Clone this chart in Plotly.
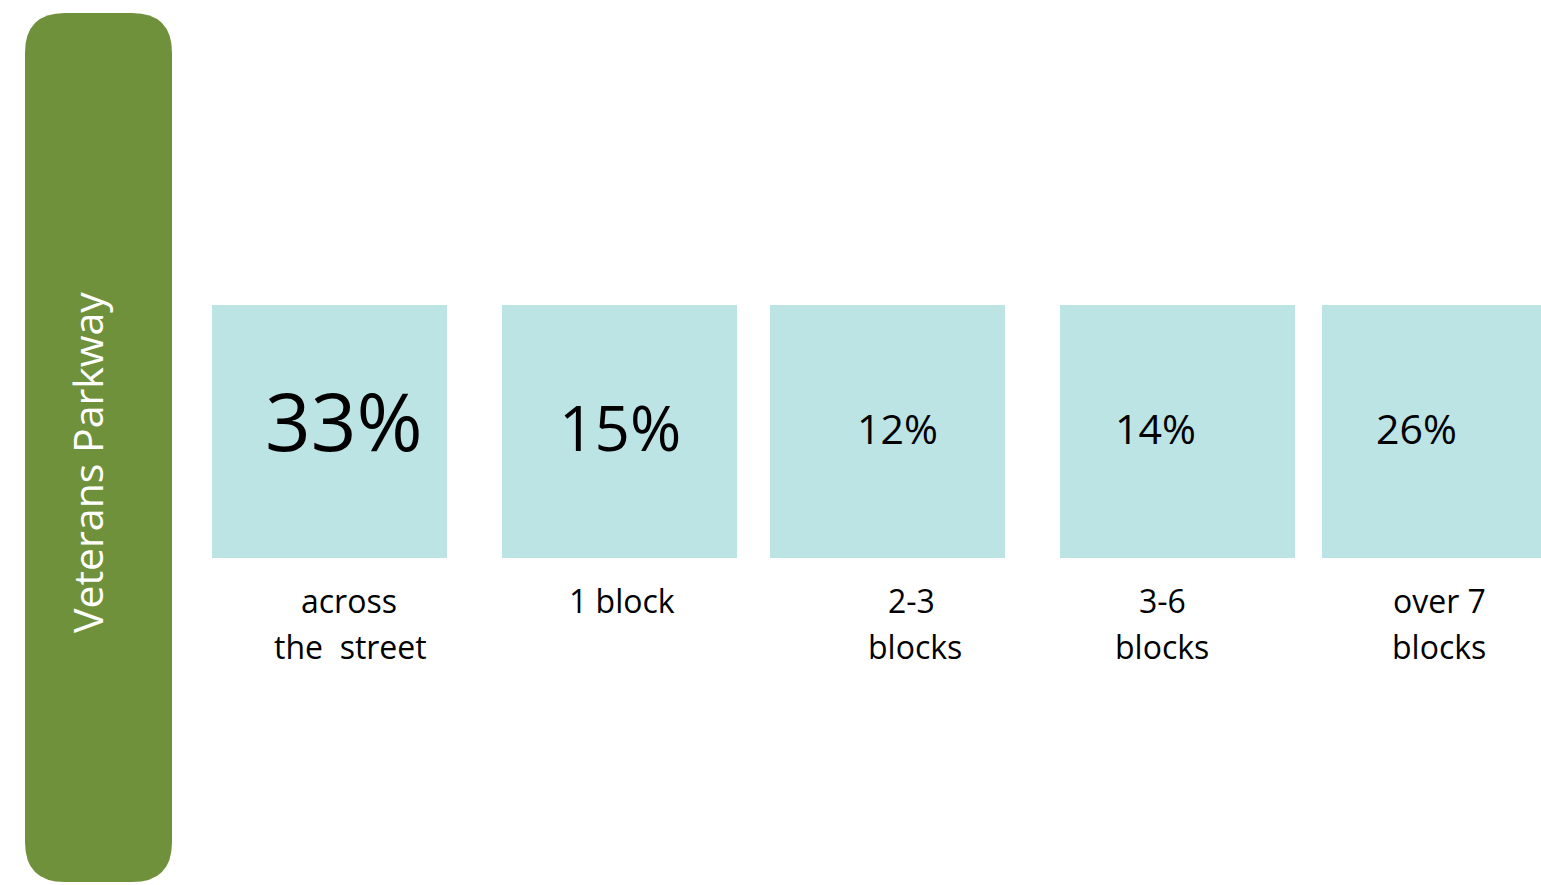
import plotly.graph_objects as go

# ---- data ----
categories = ["across<br>the  street", "1 block", "2-3<br>blocks", "3-6<br>blocks", "over 7<br>blocks"]
percent_values = [33, 15, 12, 14, 26]
road_name = "Veterans Parkway"

# ---- layout / style constants (page pixel coordinates) ----
PAGE_W, PAGE_H = 1541, 885
square_centers = [329.5, 619.5, 887.5, 1177.5, 1439.5]
square_size_w = 235
square_top, square_bottom = 305, 558
pct_x = [344, 620, 897, 1155, 1416]
pct_y = [419, 427, 428, 428, 428]
pct_font_sizes = [80, 62, 41, 41, 41]
label_x = [[349, 350], [622], [911, 915], [1162, 1162], [1439, 1439]]
label_y0, label_dy = 600, 46
label_font = 32
font_family = "Open Sans, sans-serif"
green = "#70913C"
teal = "#BDE4E4"

fig = go.Figure()

fig.add_trace(go.Bar(
    x=square_centers,
    y=[square_bottom - square_top] * len(percent_values),
    base=[square_top] * len(percent_values),
    width=[square_size_w] * len(percent_values),
    marker=dict(color=teal, line=dict(width=0)),
    hoverinfo="skip",
    showlegend=False,
))

# rounded green road band
x0, x1, y0, y1, r = 25, 172, 13, 882, 40
path = (f"M {x0+r},{y0} L {x1-r},{y0} Q {x1},{y0} {x1},{y0+r} "
        f"L {x1},{y1-r} Q {x1},{y1} {x1-r},{y1} L {x0+r},{y1} "
        f"Q {x0},{y1} {x0},{y1-r} L {x0},{y0+r} Q {x0},{y0} {x0+r},{y0} Z")
fig.add_shape(type="path", path=path, xref="x", yref="y",
              fillcolor=green, line=dict(width=0), layer="below")

annotations = []
annotations.append(dict(
    x=87, y=463, xref="x", yref="y", text=road_name, showarrow=False,
    textangle=-90, font=dict(family=font_family, size=41, color="white"),
    xanchor="center", yanchor="middle"))

for i, v in enumerate(percent_values):
    annotations.append(dict(
        x=pct_x[i], y=pct_y[i], xref="x", yref="y", text=f"{v}%",
        showarrow=False, font=dict(family=font_family, size=pct_font_sizes[i], color="black"),
        xanchor="center", yanchor="middle"))

for i, cat in enumerate(categories):
    for j, line in enumerate(cat.split("<br>")):
        annotations.append(dict(
            x=label_x[i][j], y=label_y0 + j * label_dy, xref="x", yref="y",
            text=line.replace("  ", "&nbsp; "), showarrow=False,
            font=dict(family=font_family, size=label_font, color="black"),
            xanchor="center", yanchor="middle"))

fig.update_layout(
    width=PAGE_W, height=PAGE_H,
    margin=dict(l=0, r=0, t=0, b=0),
    paper_bgcolor="white", plot_bgcolor="white",
    xaxis=dict(range=[0, PAGE_W], visible=False, fixedrange=True),
    yaxis=dict(range=[PAGE_H, 0], visible=False, fixedrange=True),
    annotations=annotations,
    bargap=0,
)

fig.write_html(
    "out.html",
    config={"displayModeBar": False},
    post_script="document.body.style.margin='0';document.body.style.overflow='hidden';",
)
